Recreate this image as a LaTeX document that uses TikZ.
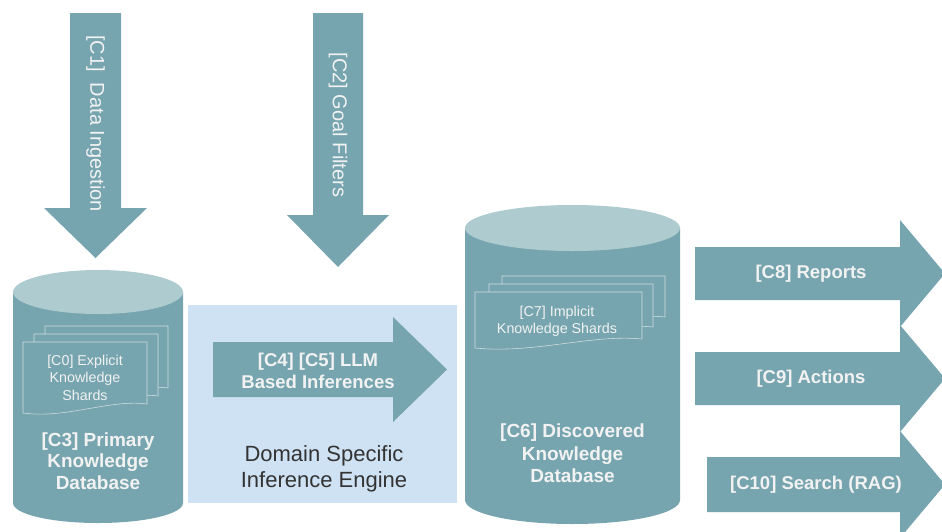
\documentclass[tikz,border=0pt]{standalone}
\usepackage{fontspec}
\setmainfont{Liberation Sans}
\usepackage{xcolor}
\usetikzlibrary{positioning}
\definecolor{dbteal}{HTML}{76A5AF}
\definecolor{dbtop}{HTML}{AECBD0}
\definecolor{engblue}{HTML}{CFE2F3}
\definecolor{shardline}{HTML}{D2E0E3}
\colorlet{lbltext}{white!95!black}
\newcommand{\shardsheet}[4]{% x, y (top left), width, height
  \fill[dbteal] (#1,#2) -- (#1+#3,#2) -- (#1+#3,#2+#4-9)
    .. controls (#1+0.7*#3,#2+#4-14) and (#1+0.35*#3,#2+#4+6) .. (#1,#2+#4) -- cycle;
  \draw[shard] (#1,#2) -- (#1+#3,#2) -- (#1+#3,#2+#4-9)
    .. controls (#1+0.7*#3,#2+#4-14) and (#1+0.35*#3,#2+#4+6) .. (#1,#2+#4) -- cycle;}

\begin{document}
\begin{tikzpicture}[x=1pt, y=-1pt,
  blk/.style={fill=dbteal, draw=none},
  shard/.style={draw=shardline, line width=0.55pt},
  biglbl/.style={text=lbltext, align=center, inner sep=0pt,
                 font=\fontsize{19}{21.5}\selectfont\bfseries},
  arrlbl/.style={text=lbltext, align=center, inner sep=0pt,
                 font=\fontsize{18.5}{22}\selectfont\bfseries},
  vlbl/.style={text=lbltext, rotate=-90, inner sep=0pt,
               font=\fontsize{20}{22}\selectfont},
  shardlbl/.style={text=lbltext, align=center, inner sep=0pt,
                   font=\fontsize{14.3}{17.5}\selectfont}]
\useasboundingbox (0,0) rectangle (942,531);
\clip (0,0) rectangle (942,531);

% inference engine box
\fill[engblue] (188,305) rectangle (457,503);

% input arrows
\fill[blk] (70,13) -- (121,13) -- (121,208) -- (147,208) -- (95.5,258)
  -- (44,208) -- (70,208) -- cycle;
\fill[blk] (313,13) -- (363,13) -- (363,215) -- (389,215) -- (338,267)
  -- (287,215) -- (313,215) -- cycle;
\node[vlbl] (c1) at (95.5,123.5) {[C1]~~Data Ingestion};
\node[vlbl] (c2) at (338,125) {[C2] Goal Filters};

% primary knowledge database
\fill[dbteal] (13,292) -- (13,503) arc[start angle=180, end angle=360,
  x radius=85pt, y radius=20pt] -- (183,292) -- cycle;
\fill[dbtop] (98,292) ellipse [x radius=85pt, y radius=22pt];
\shardsheet{45}{326}{123}{71}
\shardsheet{34}{334}{124}{71}
\shardsheet{23}{342}{124}{71}
\node[shardlbl] (c0) at (85,377.5) {[C0] Explicit\\Knowledge\\Shards};
\node[biglbl] (c3) at (98,461) {[C3] Primary\\Knowledge\\Database};

% inference arrow
\fill[blk] (213,342) -- (393,342) -- (393,317) -- (447,369.5) -- (393,422)
  -- (393,397) -- (213,397) -- cycle;
\node[arrlbl] (c45) at (318,371) {[C4] [C5] LLM\\Based Inferences};
\node[align=center, inner sep=0pt, text=black!80,
      font=\fontsize{22}{26}\selectfont] (eng) at (324,469)
      {Domain Specific\\Inference Engine};

% discovered knowledge database
\fill[dbteal] (465,228) -- (465,500) arc[start angle=180, end angle=360,
  x radius=107.5pt, y radius=24pt] -- (680,228) -- cycle;
\fill[dbtop] (572.5,228) ellipse [x radius=107.5pt, y radius=23pt];
\shardsheet{502}{276}{163}{50}
\shardsheet{489}{284}{164}{52}
\shardsheet{475}{292}{167}{56}
\node[shardlbl] (c7) at (557,321.5) {[C7] Implicit\\Knowledge Shards};
\node[biglbl, font=\fontsize{19}{22.5}\selectfont\bfseries] (c6)
      at (572.5,453.5) {[C6] Discovered\\Knowledge\\Database};

% output arrows
\fill[blk] (695,247) -- (900,247) -- (900,220) -- (945,273.5) -- (900,327)
  -- (900,300) -- (695,300) -- cycle;
\fill[blk] (695,352) -- (900,352) -- (900,325) -- (945,378.5) -- (900,432)
  -- (900,405) -- (695,405) -- cycle;
\fill[blk] (707,457) -- (900,457) -- (900,431) -- (945,484.5) -- (900,538)
  -- (900,512) -- (707,512) -- cycle;
\node[arrlbl] (c8) at (811,273.5) {[C8] Reports};
\node[arrlbl] (c9) at (811,378.5) {[C9] Actions};
\node[arrlbl] (c10) at (816,484.5) {[C10] Search (RAG)};
\end{tikzpicture}
\end{document}
